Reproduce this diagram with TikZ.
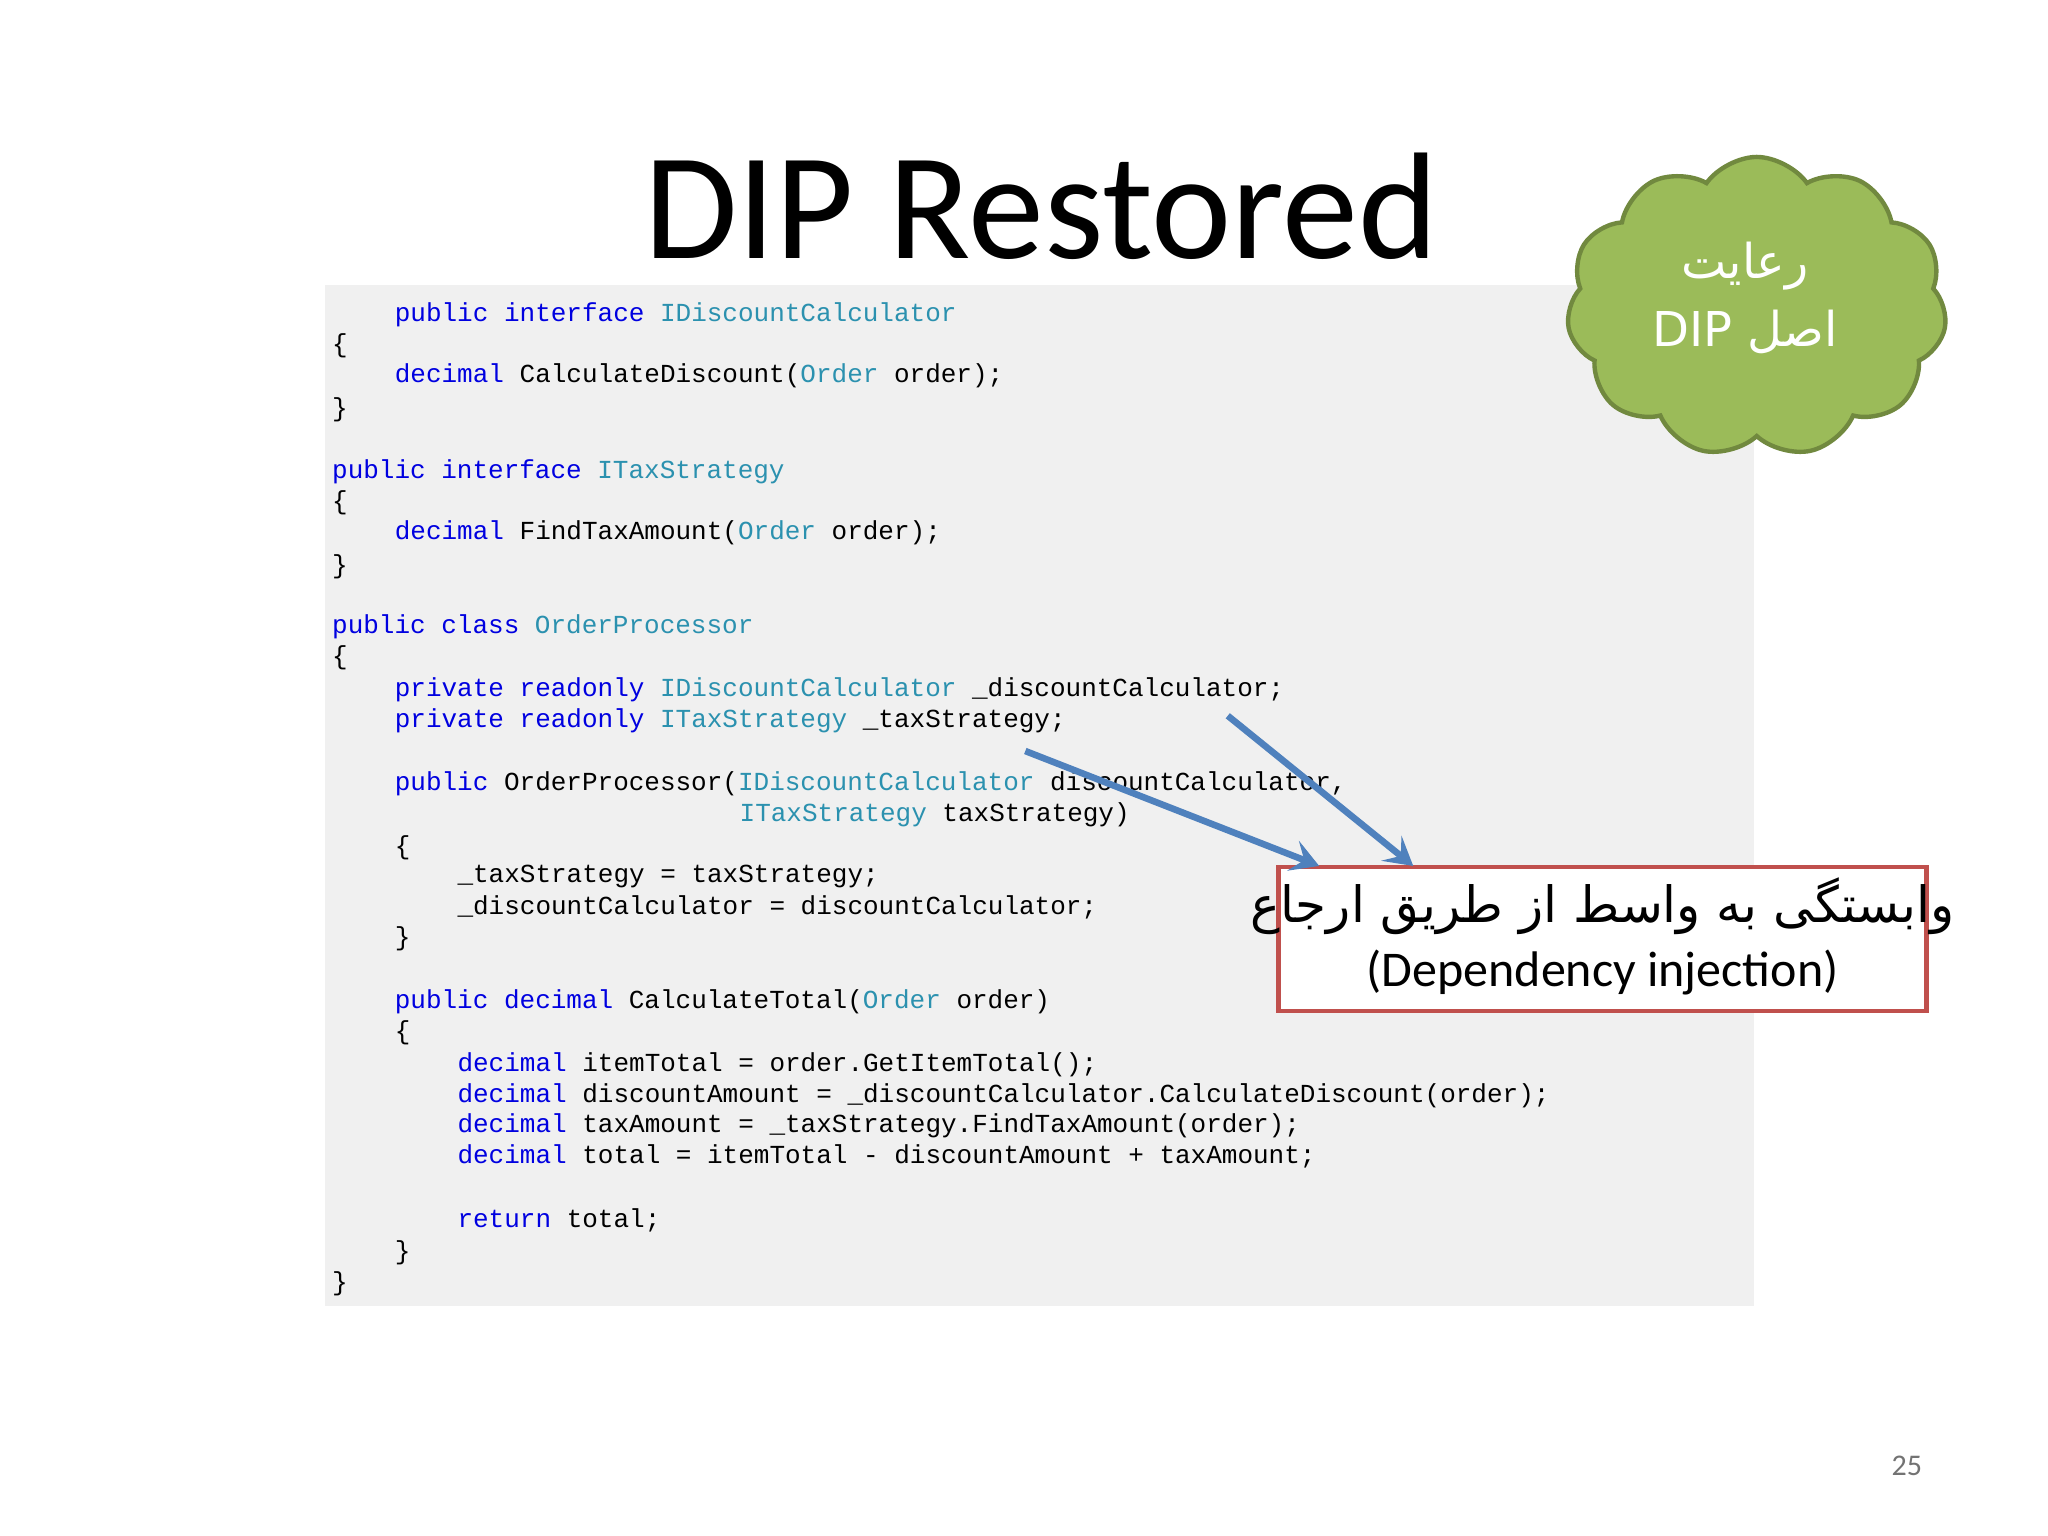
\documentclass[tikz,border=0pt]{standalone}
\usepackage{fontspec}
\setmainfont{Carlito}
\newfontfamily\codefont{Liberation Mono}
\newfontfamily\arabicfont[Script=Arabic]{DejaVu Sans}
\usetikzlibrary{shapes.symbols,arrows.meta}
\TeXXeTstate=1
\definecolor{kw}{HTML}{0000E0}
\definecolor{ty}{HTML}{2B91AF}
\definecolor{arr}{HTML}{4F81BD}
\newcommand{\kwd}[1]{\textcolor{kw}{#1}}
\newcommand{\typ}[1]{\textcolor{ty}{#1}}
\tikzset{codeline/.style={anchor=base west,inner sep=0pt,font=\codefont\fontsize{13pt}{15pt}\selectfont},
  arrowline/.style={draw=arr,line width=3.3pt,-{Stealth[length=14pt,width=16pt,inset=6pt]}}}
\begin{document}
\begin{tikzpicture}[x=0.6531pt,y=-0.6531pt]
\useasboundingbox[fill=white] (0,0) rectangle (1568,1176);
\fill[fill=black!6] (249,218) rectangle (1343,1000);
\node[font=\fontsize{76pt}{80pt}\selectfont] (title) at (797,158) {DIP Restored};
\node[codeline] (l1) at (302,246) {\kwd{public} \kwd{interface} \typ{IDiscountCalculator}};
\node[codeline] (l2) at (254,270) {\{};
\node[codeline] (l3) at (302,293) {\kwd{decimal} CalculateDiscount(\typ{Order} order);};
\node[codeline] (l4) at (254,319) {\}};
\node[codeline] (l5) at (254,366) {\kwd{public} \kwd{interface} \typ{ITaxStrategy}};
\node[codeline] (l6) at (254,390) {\{};
\node[codeline] (l7) at (302,413) {\kwd{decimal} FindTaxAmount(\typ{Order} order);};
\node[codeline] (l8) at (254,439) {\}};
\node[codeline] (l9) at (254,485) {\kwd{public} \kwd{class} \typ{OrderProcessor}};
\node[codeline] (l10) at (254,509) {\{};
\node[codeline] (l11) at (302,533) {\kwd{private} \kwd{readonly} \typ{IDiscountCalculator} \_discountCalculator;};
\node[codeline] (l12) at (302,557) {\kwd{private} \kwd{readonly} \typ{ITaxStrategy} \_taxStrategy;};
\node[codeline] (l13) at (302,605) {\kwd{public} OrderProcessor(\typ{IDiscountCalculator} discountCalculator,};
\node[codeline] (l14) at (566,629) {\typ{ITaxStrategy} taxStrategy)};
\node[codeline] (l15) at (302,654) {\{};
\node[codeline] (l16) at (350,676) {\_taxStrategy = taxStrategy;};
\node[codeline] (l17) at (350,700) {\_discountCalculator = discountCalculator;};
\node[codeline] (l18) at (302,724) {\}};
\node[codeline] (l19) at (302,772) {\kwd{public} \kwd{decimal} CalculateTotal(\typ{Order} order)};
\node[codeline] (l20) at (302,796) {\{};
\node[codeline] (l21) at (350,820) {\kwd{decimal} itemTotal = order.GetItemTotal();};
\node[codeline] (l22) at (350,844) {\kwd{decimal} discountAmount = \_discountCalculator.CalculateDiscount(order);};
\node[codeline] (l23) at (350,867) {\kwd{decimal} taxAmount = \_taxStrategy.FindTaxAmount(order);};
\node[codeline] (l24) at (350,891) {\kwd{decimal} total = itemTotal - discountAmount + taxAmount;};
\node[codeline] (l25) at (350,940) {\kwd{return} total;};
\node[codeline] (l26) at (302,964) {\}};
\node[codeline] (l27) at (254,988) {\}};
% cloud
\node[cloud,cloud puffs=11,cloud puff arc=110,aspect=1.2,fill=green!40!olive!60!lime!80!black!70,fill={rgb,255:red,155;green,187;blue,89},draw={rgb,255:red,113;green,137;blue,63},line width=2.2pt,minimum width=190pt,minimum height=150pt] (cloud) at (1345,235) {};
\node[text=white,align=center,font=\arabicfont\fontsize{24pt}{34pt}\selectfont] (cloudtxt) at (1336,228) {\beginR رعایت\endR\\\beginR اصل \beginL DIP\endL\endR};
% red box
\node[draw={rgb,255:red,192;green,80;blue,77},line width=2.2pt,fill=white,minimum width=324pt,minimum height=72pt,inner sep=0pt] (box) at (1227,719) {};
\node[align=center,font=\fontsize{25pt}{32pt}\selectfont] (boxtxt) at (1227,717) {{\arabicfont\beginR وابستگی به واسط از طریق ارجاع\endR}\\(Dependency injection)};
\coordinate (a1s) at (785,575);
\coordinate (a1e) at (1010,663);
\coordinate (a2s) at (940,548);
\coordinate (a2e) at (1082,663);
\draw[arrowline] (a1s) -- (a1e);
\draw[arrowline] (a2s) -- (a2e);
\node[text=black!55,font=\fontsize{15pt}{18pt}\selectfont] (pg) at (1460,1122) {25};
\end{tikzpicture}
\end{document}
